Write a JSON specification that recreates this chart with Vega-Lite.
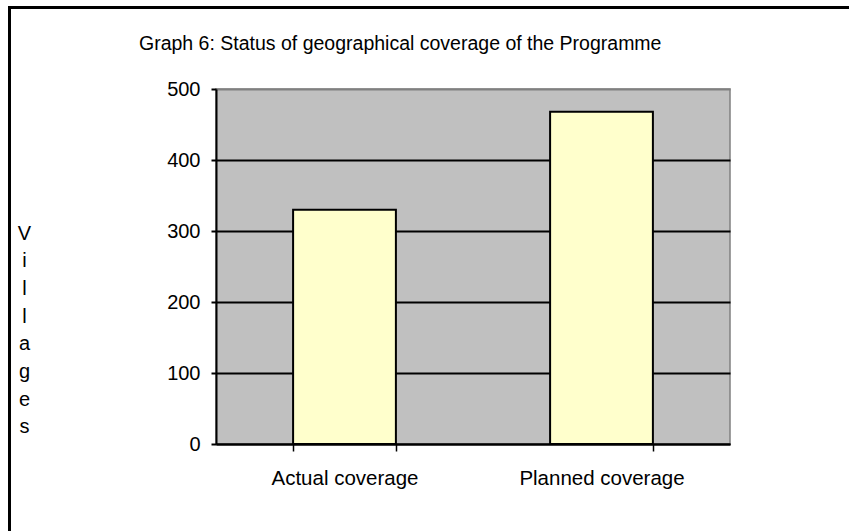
{
  "$schema": "https://vega.github.io/schema/vega-lite/v6.json",
  "background": "white",
  "padding": {"left": 5, "top": 3, "right": 0, "bottom": 0},
  "bounds": "flush",
  "spacing": 0,
  "config": {
    "font": "Liberation Sans",
    "view": {"stroke": null}
  },
  "hconcat": [
    {
      "width": 1,
      "height": 525,
      "data": {"values": [{}]},
      "mark": {"type": "point", "opacity": 0},
      "encoding": {},
      "view": {"stroke": "black", "strokeWidth": 2, "fill": null}
    },
    {
      "bounds": "flush",
      "spacing": 81,
      "vconcat": [
        {
          "width": 838,
          "height": 1,
          "data": {"values": [{}]},
          "mark": {"type": "point", "opacity": 0},
          "encoding": {},
          "view": {"stroke": "black", "strokeWidth": 2, "fill": null}
        },
        {
          "bounds": "flush",
          "spacing": 205,
          "hconcat": [
            {
              "width": 1,
              "height": 1,
              "data": {"values": [{}]},
              "mark": {"type": "point", "opacity": 0},
              "encoding": {},
              "view": {"stroke": null, "fill": null}
            },
            {
              "width": 514,
              "height": 355,
              "data": {
                "values": [
                  {"category": "Actual coverage", "villages": 330},
                  {"category": "Planned coverage", "villages": 468}
                ]
              },
              "title": {
                "text": "Graph 6: Status of geographical coverage of the Programme",
                "fontSize": 19.5,
                "fontWeight": "normal",
                "color": "black",
                "anchor": "start",
                "frame": "group",
                "dx": -77,
                "baseline": "alphabetic",
                "offset": 10
              },
              "view": {"stroke": "#808080", "strokeWidth": 1.5, "fill": "#C0C0C0"},
              "mark": {"type": "bar", "fill": "#FFFFCC", "stroke": "black", "strokeWidth": 2},
              "encoding": {
                "x": {
                  "field": "category",
                  "type": "nominal",
                  "sort": null,
                  "scale": {"paddingInner": 0.6, "paddingOuter": 0.3},
                  "axis": {
                    "title": null,
                    "labelAngle": 0,
                    "labelFontSize": 20.5,
                    "labelColor": "black",
                    "labelPadding": 17,
                    "tickBand": "extent",
                    "tickColor": "black",
                    "tickWidth": 1.5,
                    "tickSize": 7,
                    "domainColor": "black",
                    "domainWidth": 2,
                    "grid": false
                  }
                },
                "y": {
                  "field": "villages",
                  "type": "quantitative",
                  "scale": {"domain": [0, 500], "nice": false},
                  "axis": {
                    "title": ["V", "i", "l", "l", "a", "g", "e", "s"],
                    "titleAngle": 0,
                    "titleAlign": "center",
                    "titleBaseline": "alphabetic",
                    "titleX": -192,
                    "titleY": 150,
                    "titleLineHeight": 27.7,
                    "titleFontSize": 20,
                    "titleFontWeight": "normal",
                    "titleColor": "black",
                    "values": [0, 100, 200, 300, 400, 500],
                    "labelFontSize": 20,
                    "labelColor": "black",
                    "labelPadding": 11,
                    "tickColor": "black",
                    "tickWidth": 2,
                    "tickSize": 5,
                    "domainColor": "black",
                    "domainWidth": 2,
                    "grid": true,
                    "gridColor": {"condition": {"test": "datum.value === 500", "value": "#808080"}, "value": "black"},
                    "gridWidth": 2
                  }
                }
              }
            }
          ]
        }
      ]
    }
  ]
}
